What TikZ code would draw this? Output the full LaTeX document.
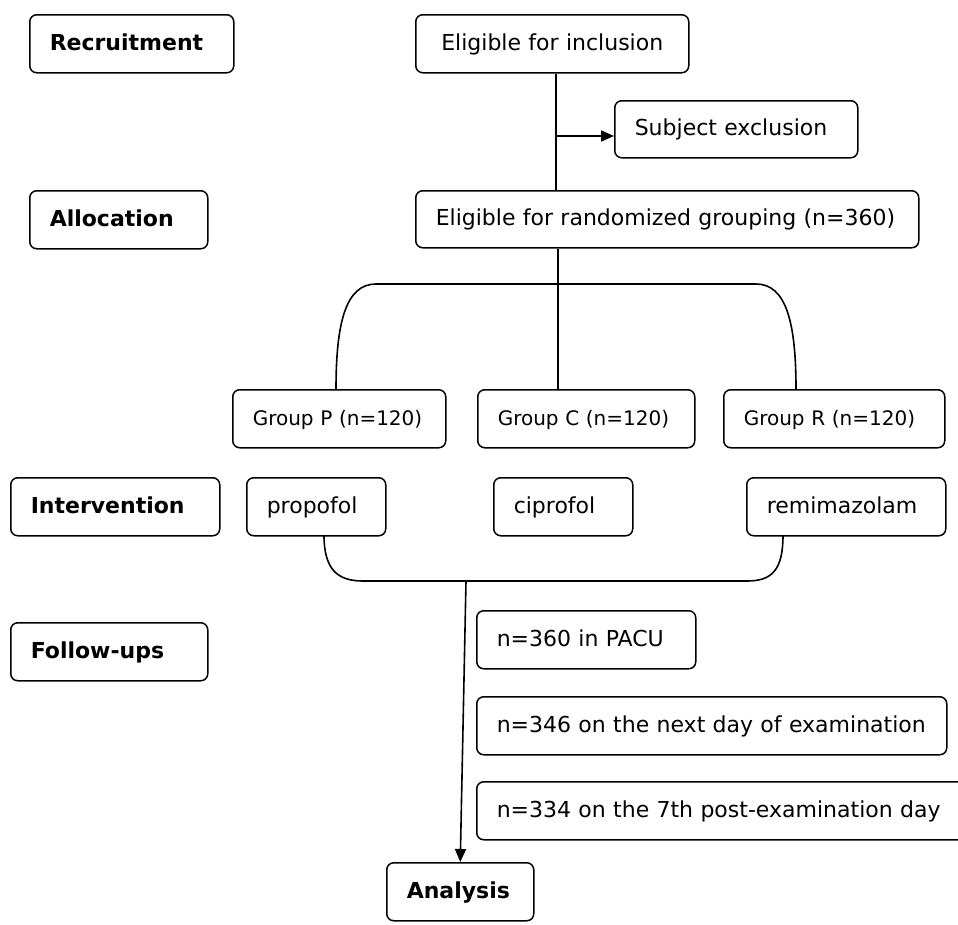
\documentclass[tikz,border=0pt]{standalone}
\usepackage{fontspec}
\setmainfont{DejaVu Sans}
\usetikzlibrary{arrows.meta}

\tikzset{
block/.style={
  rectangle,
  draw,
  rounded corners=7pt,
  line width=1.5pt,
  inner xsep=20pt,
  inner ysep=0pt,
  text height=17pt,
  text depth=4pt,
  minimum height=58pt,
  align=left,
  anchor=north west,
},
stage/.style={block, font=\fontsize{22pt}{26pt}\selectfont\bfseries},
group/.style={block, font=\fontsize{20pt}{24pt}\selectfont},
}

\begin{document}
\begin{tikzpicture}[x=1pt, y=-1pt, >={Triangle[length=13pt,width=11pt]}, line width=1.6pt,
  font=\fontsize{22pt}{26pt}\selectfont]
\useasboundingbox (0,0) rectangle (958,924);
\clip (0,0) rectangle (958,924);
\fill[white] (0,0) rectangle (958,924);

%stages on the left
\node[stage, text width=164pt](recruit) at (29,14) {Recruitment};
\node[stage, text width=138pt](alloc) at (29,190) {Allocation};
\node[stage, text width=169pt](interv) at (10,477) {Intervention};
\node[stage, text width=157pt](follow) at (10,622) {Follow-ups};
\node[stage, text width=107pt](analysis) at (386,862) {Analysis};

%enrolment
\node[block, text width=233pt, align=center](inclusion) at (415,14) {Eligible for inclusion};
\node[block, text width=203pt, minimum height=57pt](exclusion) at (614,100) {Subject exclusion};
\node[block, text width=463pt, minimum height=57pt](randomized) at (415,190) {Eligible for randomized grouping (n=360)};

%groups
\node[group, text width=173pt](groupP) at (232,389) {Group P (n=120)};
\node[group, text width=177pt](groupC) at (477,389) {Group C (n=120)};
\node[group, text width=181pt](groupR) at (723,389) {Group R (n=120)};

%drugs
\node[block, text width=99pt](propofol) at (246,477) {propofol};
\node[block, text width=99pt](ciprofol) at (493,477) {ciprofol};
\node[block, text width=159pt](remi) at (746,477) {remimazolam};

%follow-ups
\node[block, text width=179pt](pacu) at (476,610) {n=360 in PACU};
\node[block, text width=430pt](nextday) at (476,696) {n=346 on the next day of examination};
\node[block, text width=470pt](seventh) at (476,781) {n=334 on the 7th post-examination day};

\coordinate (excl) at (556,136);
\coordinate (fork) at (558,284);
\coordinate (armP) at (336,389);
\coordinate (armR) at (796,389);
\coordinate (armPro) at (324,535);
\coordinate (armRemi) at (783,535);
\coordinate (merge) at (466,581);

\draw (inclusion.south -| excl) -- (randomized.north -| excl);
\draw[->] (excl) -- (excl -| exclusion.west);
\draw (randomized.south -| fork) -- (groupC.north -| fork);
\draw (armP) .. controls (336,322) and (346,284) .. (376,284) -- (756,284)
  .. controls (786,284) and (796,322) .. (armR);
\draw (armPro) .. controls (324,570) and (338,581) .. (363,581) -- (747,581)
  .. controls (772,581) and (783,570) .. (armRemi);
\draw[->] (merge) -- (analysis.north);

\end{tikzpicture}
\end{document}
